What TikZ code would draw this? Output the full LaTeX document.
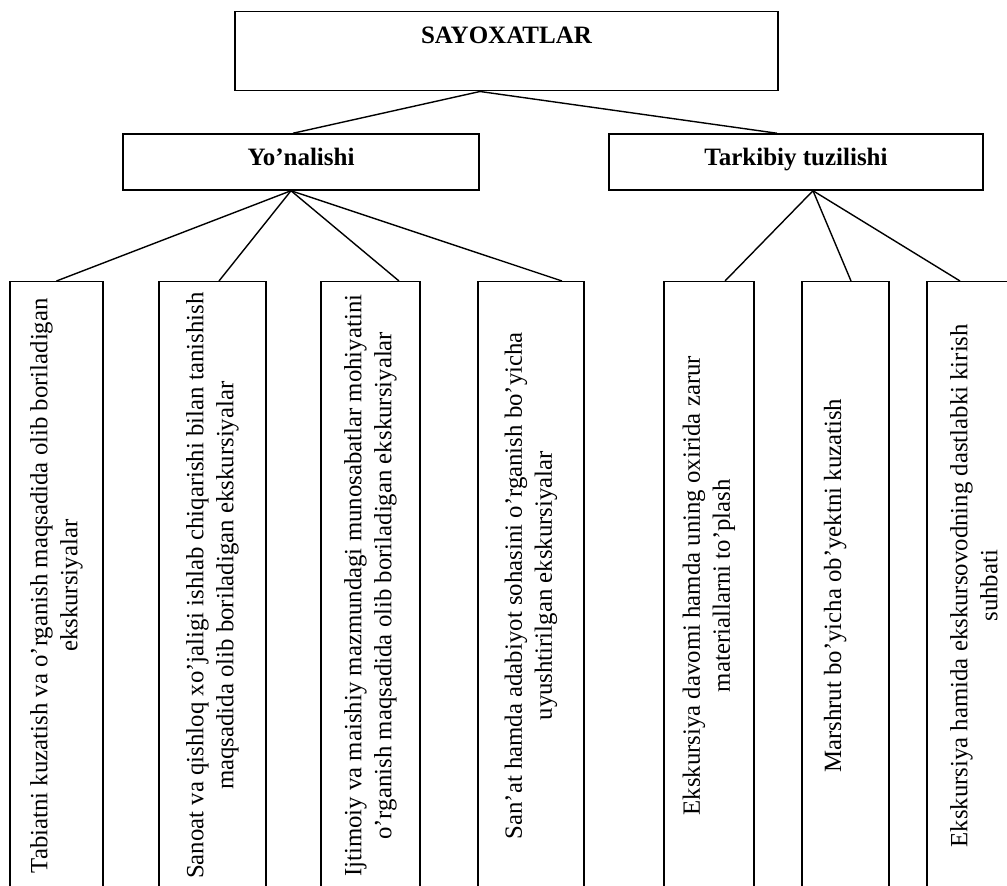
\documentclass[tikz,border=0pt]{standalone}
\usepackage{fontspec}
\setmainfont{Liberation Serif}
\begin{document}
\begin{tikzpicture}[x=0.5pt,y=-0.5pt,
		box/.style={draw,line width=0.75pt,inner sep=0pt,font=\fontsize{12.5}{14}\selectfont\bfseries},
		head/.style={box,text height=16pt,text depth=12pt},
		leaf/.style={draw,line width=0.75pt,rotate=90,anchor=east,inner sep=0pt,align=center,
			minimum width=304pt,font=\fontsize{12.4}{15}\selectfont},
		link/.style={line width=0.7pt}]
	\useasboundingbox (0,0) rectangle (1007,886);
	% top levels
	\node[box,anchor=north,minimum width=271.5pt,text height=16pt,text depth=23.5pt](root) at (506.5,11){SAYOXATLAR};
	\node[head,minimum width=178pt](yon) at (301,162){Yo’nalishi};
	\node[head,minimum width=187pt](tark) at (796,162){Tarkibiy tuzilishi};
	% leaves
	\node[leaf,minimum height=46.5pt](tab) at (56.5,281){Tabiatni kuzatish va o’rganish maqsadida olib boriladigan\\ekskursiyalar};
	\node[leaf,minimum height=53.5pt](san) at (212.5,281){Sanoat va qishloq xo’jaligi ishlab chiqarishi bilan tanishish\\maqsadida olib boriladigan ekskursiyalar};
	\node[leaf,minimum height=49.5pt](ijt) at (370.5,281){Ijtimoiy va maishiy mazmundagi munosabatlar mohiyatini\\o’rganish maqsadida olib boriladigan ekskursiyalar};
	\node[leaf,minimum height=53pt](art) at (531,281){San’at hamda adabiyot sohasini o’rganish bo’yicha\\uyushtirilgan ekskursiyalar};
	\node[leaf,minimum height=45pt](dav) at (709,281){Ekskursiya davomi hamda uning oxirida zarur\\materiallarni to’plash};
	\node[leaf,minimum height=43.5pt,text height=9pt,text depth=13.4pt](mar) at (845.5,281){Marshrut bo’yicha ob’yektni kuzatish};
	\node[leaf,minimum height=47pt](suh) at (974,281){Ekskursiya hamida ekskursovodning dastlabki kirish\\suhbati};
	% connectors
	\draw[link] ([xshift=-13.25pt]root.south) -- ([xshift=-4pt]yon.north);
	\draw[link] ([xshift=-13.25pt]root.south) -- ([xshift=-9.5pt]tark.north);
	\foreach \leaf/\dx in {tab/0,san/3.25,ijt/14.25,art/15.5}
		\draw[link] ([xshift=-5pt]yon.south) -- ([xshift=\dx pt]\leaf.east);
	\foreach \leaf/\dx in {dav/8,mar/2.75,suh/-7}
		\draw[link] ([xshift=8.5pt]tark.south) -- ([xshift=\dx pt]\leaf.east);
\end{tikzpicture}
\end{document}
